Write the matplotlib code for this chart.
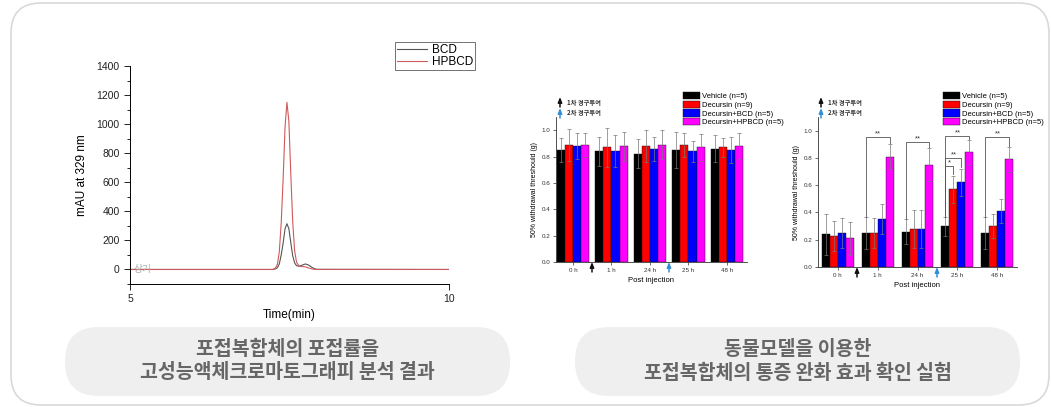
import matplotlib
matplotlib.use("Agg")
import matplotlib.pyplot as plt
import numpy as np
from matplotlib.patches import FancyBboxPatch, Patch

plt.rcParams['font.family'] = ['Liberation Sans', 'Noto Sans CJK KR', 'DejaVu Sans']

W, H = 1051, 407

# --- chromatogram ---
time_min = [5.0, 7.24, 7.28, 7.31, 7.34, 7.37, 7.40, 7.43, 7.46, 7.49, 7.52,
            7.55, 7.58, 7.61, 7.65, 7.70, 7.75, 7.80, 7.86, 7.92, 10.0]
hpbcd_mau = [0, 0, 10, 35, 120, 320, 620, 980, 1150, 1020, 660,
             330, 130, 50, 24, 20, 18, 10, 3, 0, 0]
bcd_mau = [0, 0, 4, 12, 38, 100, 180, 280, 315, 280, 185,
           95, 45, 26, 22, 30, 38, 30, 12, 1, 0]

# --- pain model bar charts ---
timepoints = ['0 h', '1 h', '24 h', '25 h', '48 h']
groups = ['Vehicle (n=5)', 'Decursin (n=9)', 'Decursin+BCD (n=5)', 'Decursin+HPBCD (n=5)']
bar_colors = ['#000000', '#ff0000', '#0000ff', '#ff00ff']

# left chart: rows = groups, cols = timepoints
left_mean = [[0.85, 0.84, 0.82, 0.85, 0.86],
             [0.89, 0.87, 0.88, 0.89, 0.87],
             [0.88, 0.84, 0.86, 0.84, 0.85],
             [0.89, 0.88, 0.89, 0.87, 0.88]]
left_err = [[0.09, 0.11, 0.11, 0.14, 0.10],
            [0.12, 0.15, 0.12, 0.09, 0.07],
            [0.10, 0.12, 0.09, 0.08, 0.10],
            [0.09, 0.11, 0.11, 0.10, 0.10]]

# right chart
right_mean = [[0.24, 0.25, 0.26, 0.30, 0.25],
              [0.23, 0.25, 0.28, 0.57, 0.30],
              [0.25, 0.35, 0.28, 0.62, 0.41],
              [0.21, 0.81, 0.75, 0.84, 0.79]]
right_err = [[0.15, 0.12, 0.09, 0.07, 0.12],
             [0.11, 0.11, 0.14, 0.10, 0.09],
             [0.11, 0.11, 0.14, 0.10, 0.09],
             [0.12, 0.09, 0.12, 0.09, 0.09]]

# significance brackets: (timepoint, target group, height, right end, label)
sig_marks = [(1, 3, 0.956, 0.91, '**'),
             (2, 3, 0.92, 0.88, '**'),
             (3, 1, 0.74, 0.68, '*'),
             (3, 2, 0.80, 0.73, '**'),
             (3, 3, 0.96, 0.94, '**'),
             (4, 3, 0.956, 0.89, '**')]

captions_left = ['포접복합체의 포접률을', '고성능액체크로마토그래피 분석 결과']
captions_right = ['동물모델을 이용한', '포접복합체의 통증 완화 효과 확인 실험']
arrow_texts = ['1차 경구투여', '2차 경구투여']
arrow_colors = ['#111111', '#2f8fd8']


def px_axes(fig, x0, y0, x1, y1):
    return fig.add_axes([x0 / W, 1 - y1 / H, (x1 - x0) / W, (y1 - y0) / H])


fig = plt.figure(figsize=(W / 100, H / 100), dpi=100)

# background: rounded card and caption pills
bg = px_axes(fig, 0, 0, W, H)
bg.set_xlim(0, W)
bg.set_ylim(H, 0)
bg.axis('off')
bg.add_patch(FancyBboxPatch((11, 3), 1038, 402, boxstyle='round,pad=0,rounding_size=30',
                            fc='white', ec='#d9d9d9', lw=1.2))
for x0, lines in [(65, captions_left), (575, captions_right)]:
    bg.add_patch(FancyBboxPatch((x0, 327), 445, 69, boxstyle='round,pad=0,rounding_size=34',
                                fc='#efefef', ec='none'))
    for k, line in enumerate(lines):
        bg.text(x0 + 222.5, 349 + 24 * k, line, ha='center', va='center', fontsize=14,
                fontweight='bold', color='#666666', family=['Noto Sans CJK KR'])

# chromatogram
ax1 = px_axes(fig, 130, 66, 449, 284)
ax1.set_facecolor('none')
ax1.plot(time_min, bcd_mau, color='#555555', lw=0.8, label='BCD')
ax1.plot(time_min, hpbcd_mau, color='#d05a5a', lw=0.8, label='HPBCD')
ax1.set_xlim(5, 10)
ax1.set_ylim(-100, 1400)
ax1.set_xticks([5, 10])
ax1.set_yticks(np.arange(0, 1401, 200))
ax1.set_yticks(np.arange(-100, 1401, 100), minor=True)
for s in ['top', 'right']:
    ax1.spines[s].set_visible(False)
for s in ['left', 'bottom']:
    ax1.spines[s].set_linewidth(0.7)
ax1.tick_params(labelsize=7.5, width=0.7, length=4, colors='#222222')
ax1.tick_params(which='minor', width=0.6, length=2)
ax1.set_xlabel('Time(min)', fontsize=8.5, labelpad=3)
ax1.set_ylabel('mAU at 329 nm', fontsize=8.5, labelpad=6)
ax1.text(5.05, 0, '상기', fontsize=7, color='#b0b0b0', va='center', family=['Noto Sans CJK KR'])
leg1 = ax1.legend(loc='upper right', bbox_to_anchor=(475 / W, 1 - 42 / H), bbox_transform=fig.transFigure,
                  fontsize=8.5, frameon=True, fancybox=False, handlelength=2.6, borderpad=0.15,
                  labelspacing=0.05, handletextpad=0.4, borderaxespad=0)
leg1.get_frame().set_edgecolor('#333333')
leg1.get_frame().set_linewidth(0.6)


def bar_panel(ax, means, errs, bw):
    x = np.arange(len(timepoints))
    for g in range(len(groups)):
        ax.bar(x + (g - 1.5) * bw, means[g], bw, yerr=errs[g], color=bar_colors[g],
               edgecolor='#111111', lw=0.3, error_kw=dict(ecolor='#777777', elinewidth=0.5,
                                                        capsize=1.5, capthick=0.5))
    ax.set_ylim(0, 1.1)
    ax.set_yticks(np.arange(0, 1.01, 0.2))
    ax.set_yticklabels(['%.1f' % v for v in np.arange(0, 1.01, 0.2)])
    ax.set_xticks(x)
    ax.set_xticklabels(timepoints)
    for s in ['top', 'right']:
        ax.spines[s].set_visible(False)
    for s in ['left', 'bottom']:
        ax.spines[s].set_linewidth(0.6)
        ax.spines[s].set_color('#333333')
    ax.tick_params(labelsize=4.5, width=0.5, length=2, colors='#333333', pad=2)
    ax.set_xlabel('Post injection', fontsize=5.5, labelpad=3)
    ax.set_ylabel('50% withdrawal threshould (g)', fontsize=5, labelpad=3)
    handles = [Patch(fc=c, ec='#111111', lw=0.3) for c in bar_colors]
    return handles


ax2 = px_axes(fig, 556, 117, 747, 262)
ax2.set_facecolor('none')
ax2.set_xlim(-0.44, 4.52)
h2 = bar_panel(ax2, left_mean, left_err, 0.21)
ax2.legend(h2, groups, loc='upper left', bbox_to_anchor=(683 / W, 1 - 92 / H),
           bbox_transform=fig.transFigure, fontsize=5.5, frameon=False, handlelength=2.2,
           handleheight=1.1, labelspacing=0.05, handletextpad=0.3, borderpad=0, borderaxespad=0)

ax3 = px_axes(fig, 818, 117, 1017, 267)
ax3.set_facecolor('none')
ax3.set_xlim(-0.49, 4.49)
h3 = bar_panel(ax3, right_mean, right_err, 0.2)
ax3.legend(h3, groups, loc='upper left', bbox_to_anchor=(943 / W, 1 - 92 / H),
           bbox_transform=fig.transFigure, fontsize=5.5, frameon=False, handlelength=2.2,
           handleheight=1.1, labelspacing=0.05, handletextpad=0.3, borderpad=0, borderaxespad=0)

bw3 = 0.2
for t, g, y, yr, lab in sig_marks:
    xl = t - 1.5 * bw3
    xr = t + (g - 1.5) * bw3
    ax3.plot([xl, xl, xr, xr], [right_mean[0][t] + right_err[0][t], y, y, yr],
             color='#555555', lw=0.6)
    ax3.text((xl + xr) / 2, y - 0.005, lab, ha='center', va='bottom', fontsize=5.5,
             color='#333333')

# overlay: dosing arrows and their notes
ov = px_axes(fig, 0, 0, W, H)
ov.set_xlim(0, W)
ov.set_ylim(H, 0)
ov.axis('off')
arrow_style = dict(arrowstyle='-|>,head_length=0.3,head_width=0.12', lw=1.1,
                   shrinkA=0, shrinkB=0)
for ax_x, bottom_arrows, ybot in [(560, (592, 669), 272), (821, (857, 937), 277)]:
    for k in range(2):
        y0 = 107 + 11 * k
        ov.annotate('', xy=(ax_x, y0 - 10), xytext=(ax_x, y0),
                    arrowprops=dict(color=arrow_colors[k], **arrow_style))
        ov.text(ax_x + 7, y0 - 5, arrow_texts[k], fontsize=4.5, fontweight='bold',
                va='center', color='#333333', family=['Noto Sans CJK KR'])
        bx = bottom_arrows[k]
        ov.annotate('', xy=(bx, ybot - 10), xytext=(bx, ybot),
                    arrowprops=dict(color=arrow_colors[k], **arrow_style))

fig.savefig('out.png', dpi=100)
